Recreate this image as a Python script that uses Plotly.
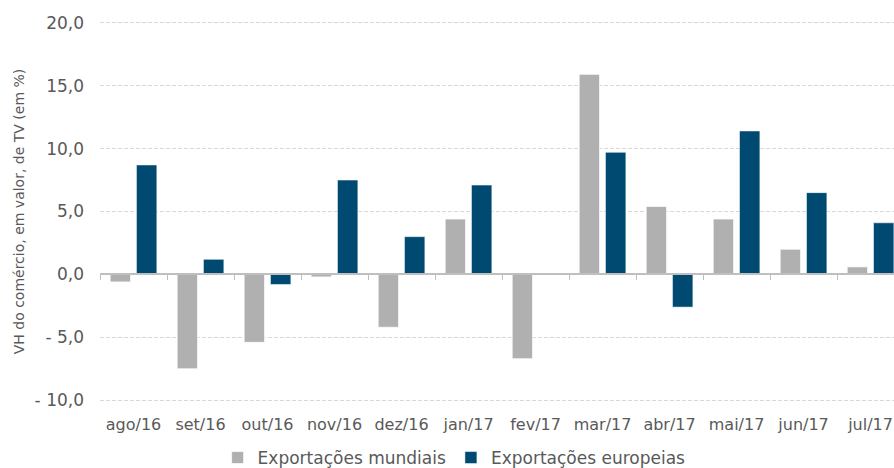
import plotly.graph_objects as go

categories = ["ago/16", "set/16", "out/16", "nov/16", "dez/16", "jan/17",
              "fev/17", "mar/17", "abr/17", "mai/17", "jun/17", "jul/17"]
mundiais = [-0.6, -7.5, -5.4, -0.2, -4.2, 4.4, -6.7, 15.9, 5.4, 4.4, 2.0, 0.6]
europeias = [8.7, 1.2, -0.8, 7.5, 3.0, 7.1, 0.05, 9.7, -2.6, 11.4, 6.5, 4.1]
y_tickvals = [-10, -5, 0, 5, 10, 15, 20]
y_ticktext = ["- 10,0", "- 5,0", "0,0", "5,0", "10,0", "15,0", "20,0"]

TXT = "#595959"
FONT = "DejaVu Sans, Verdana, sans-serif"
XRANGE = [-0.5, 11.35]
YRANGE = [-10.3, 20.3]

fig = go.Figure()
fig.add_trace(go.Bar(x=categories, y=mundiais, name="Exportações mundiais",
                     marker=dict(color="#b0b0b0", line=dict(color="rgba(255,255,255,0.7)", width=1))))
fig.add_trace(go.Bar(x=categories, y=europeias, name="Exportações europeias",
                     marker=dict(color="#004a72", line=dict(color="rgba(255,255,255,0.5)", width=1))))
# helper axis for the zero line with boundary ticks
fig.add_trace(go.Scatter(x=[], y=[], xaxis="x2", showlegend=False, hoverinfo="skip"))

fig.update_layout(
    width=894, height=468,
    margin=dict(l=100, r=0, t=19, b=64),
    paper_bgcolor="white", plot_bgcolor="white",
    font=dict(family=FONT, color=TXT),
    barmode="group", bargap=0.215, bargroupgap=0.225,
    showlegend=True,
    legend=dict(orientation="h", x=0.446, xanchor="center",
                yref="container", y=(468 - 458) / 468, yanchor="middle",
                font=dict(size=17, color=TXT), itemwidth=30, traceorder="normal"),
    xaxis=dict(type="category", range=XRANGE, showgrid=False, showline=False, ticks="",
               tickfont=dict(size=16, color=TXT), ticklabelstandoff=9, zeroline=False,
               automargin=False),
    xaxis2=dict(overlaying="x", anchor="free",
                position=(0 - YRANGE[0]) / (YRANGE[1] - YRANGE[0]),
                range=XRANGE, side="bottom",
                showline=True, linecolor="#bfbfbf", linewidth=1.5, showgrid=False,
                ticks="outside", ticklen=5, tickwidth=1.2, tickcolor="#bfbfbf",
                tickvals=[i + 0.5 for i in range(-1, 11)], showticklabels=False, zeroline=False,
                automargin=False),
    yaxis=dict(range=YRANGE, tickvals=y_tickvals, ticktext=y_ticktext,
               showgrid=True, gridcolor="#d9d9d9", griddash="4px,2px", gridwidth=1,
               zeroline=False, showline=False, ticks="", automargin=False,
               tickfont=dict(size=17, color=TXT), ticklabelstandoff=15,
               title=dict(text="VH do comércio, em valor, de TV (em %)",
                          font=dict(size=14, color=TXT), standoff=6)),
)

fig.write_html("out.html", post_script="document.body.style.margin='0';",
               config={"displayModeBar": False})
